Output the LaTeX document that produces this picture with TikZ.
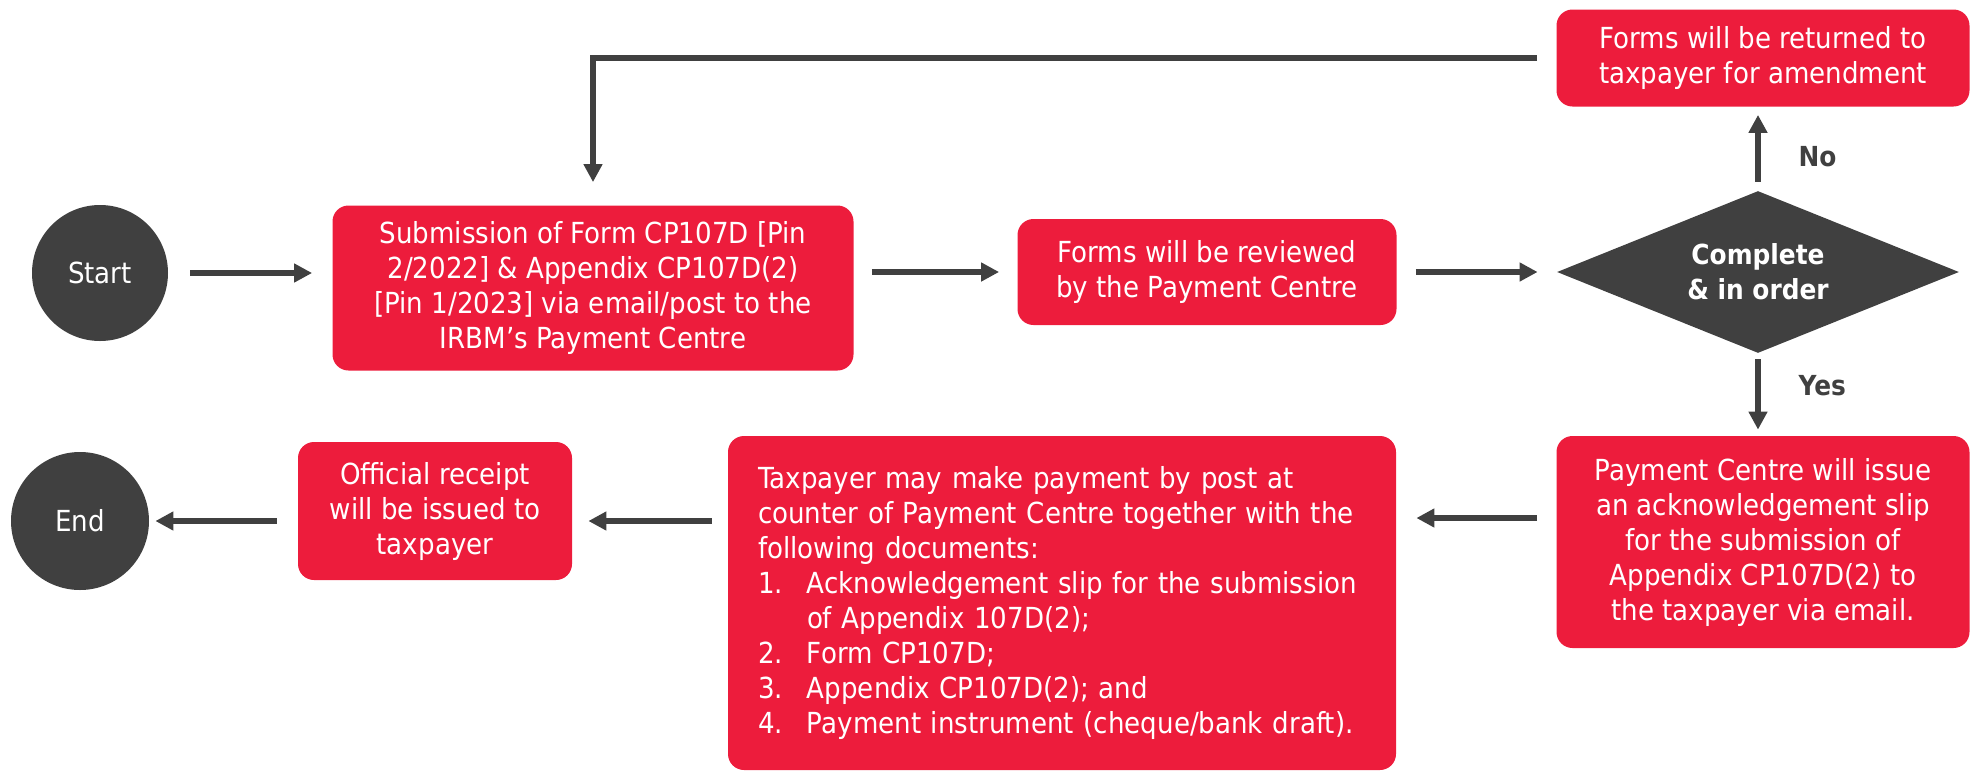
\documentclass[tikz,border=0pt]{standalone}
\usepackage{fontspec}
\setmainfont{DejaVu Sans}[FakeStretch=0.9]
\usetikzlibrary{arrows.meta,positioning,shapes.geometric}
\definecolor{stepred}{RGB}{237,28,60}
\definecolor{darkgrey}{RGB}{64,64,64}

\tikzset{
  stepbox/.style={rounded corners=8pt,fill=stepred,text=white,align=center,inner sep=0pt,
    font=\fontsize{14.5pt}{17.5pt}\selectfont},
  termnode/.style={circle,fill=darkgrey,text=white,inner sep=0pt,
    font=\fontsize{14.5pt}{17.5pt}\selectfont},
  decision/.style={diamond,fill=darkgrey,text=white,align=center,inner sep=0pt,shape aspect=2.5,
    font=\bfseries\fontsize{13.8pt}{17.5pt}\selectfont},
  flow/.style={-{Triangle[length=9pt,width=9pt]},line width=2.6pt,darkgrey},
  lbl/.style={text=darkgrey,font=\bfseries\fontsize{13.8pt}{17.5pt}\selectfont,inner sep=0pt,anchor=west}
}

\newcommand{\itemno}[1]{\makebox[24.5pt][l]{#1}}

\begin{document}
\begin{tikzpicture}[x=0.5pt,y=-0.5pt]
\useasboundingbox (0,0) rectangle (1977,772);

% top row
\node[termnode,minimum size=68pt] (start) at (100,273) {Start};
\node[stepbox,minimum width=260.5pt,minimum height=82.5pt] (submit) at (593,288)
  {Submission of Form CP107D {[}Pin\\ 2/2022] \& Appendix CP107D(2)\\ {[}Pin 1/2023] via email/post to the\\ IRBM’s Payment Centre};
\node[stepbox,minimum width=189.5pt,minimum height=53pt] (review) at (1207,272)
  {Forms will be reviewed\\ by the Payment Centre};
\node[decision,minimum width=201pt,minimum height=81pt] (check) at (1758,272)
  {Complete\\ \& in order};
\node[stepbox,minimum width=206.5pt,minimum height=48.5pt] (return) at (1763,58)
  {Forms will be returned to\\ taxpayer for amendment};

% bottom row
\node[stepbox,minimum width=206.5pt,minimum height=106pt] (issue) at (1763,542)
  {Payment Centre will issue\\ an acknowledgement slip\\ for the submission of\\ Appendix CP107D(2) to\\ the taxpayer via email.};
\node[stepbox,align=left,text width=304pt,inner xsep=15pt,minimum height=167pt] (pay) at (1062,603)
  {Taxpayer may make payment by post at\\
   counter of Payment Centre together with the\\
   following documents:\\
   \itemno{1.}Acknowledgement slip for the submission\\
   \hspace*{24.5pt}of Appendix 107D(2);\\
   \itemno{2.}Form CP107D;\\
   \itemno{3.}Appendix CP107D(2); and\\
   \itemno{4.}Payment instrument (cheque/bank draft).};
\node[stepbox,minimum width=137pt,minimum height=69pt] (receipt) at (435,511)
  {Official receipt\\ will be issued to\\ taxpayer};
\node[termnode,minimum size=69pt] (end) at (80,521) {End};

% connectors
\draw[flow,shorten <=11pt,shorten >=10pt] (start.east) -- (start.east -| submit.west);
\draw[flow,shorten <=9pt,shorten >=9pt] (review.west -| submit.east) -- (review.west);
\draw[flow,shorten <=9.5pt,shorten >=9.5pt] (review) -- (check);
\draw[flow,shorten <=4.5pt,shorten >=4pt] (check.north) -- (check.north |- return.south)
  node[lbl,pos=0.4,right=19pt] (no) {No};
\draw[flow,shorten <=9.5pt,shorten >=11.5pt] (return.west) -| (submit.north);
\draw[flow,shorten <=3pt,shorten >=3pt] (check.south) -- (check.south |- issue.north)
  node[lbl,pos=0.39,right=19pt] (yes) {Yes};
\draw[flow,shorten <=9.5pt,shorten >=10pt] ([yshift=12pt]issue.west) -- ([yshift=12pt]issue.west -| pay.east);
\draw[flow,shorten <=8pt,shorten >=8pt] (end -| pay.west) -- (end -| receipt.east);
\draw[flow,shorten <=10.5pt,shorten >=3pt] (end -| receipt.west) -- (end.east);
\end{tikzpicture}
\end{document}
